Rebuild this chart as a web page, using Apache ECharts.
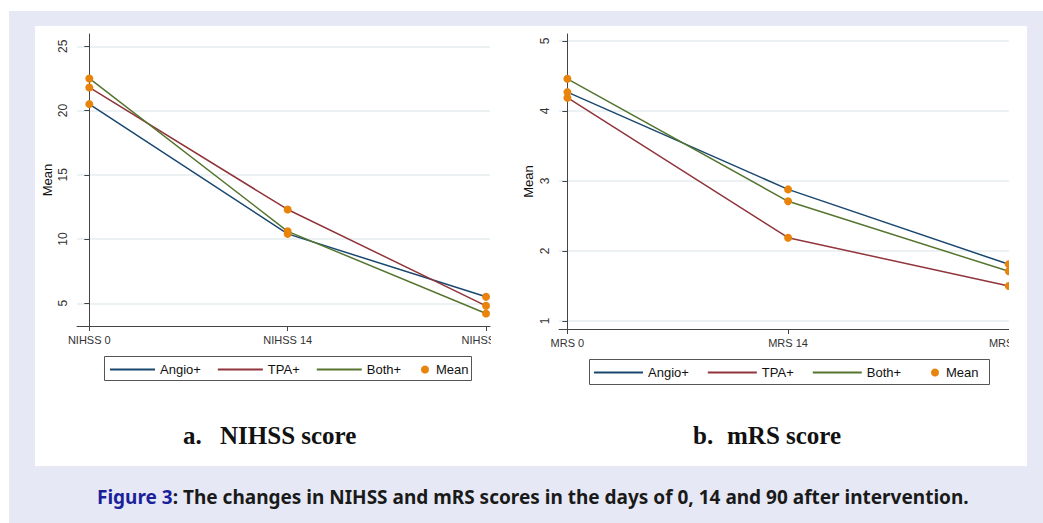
<!DOCTYPE html>
<html>
<head>
<meta charset="utf-8">
<script src="https://cdn.jsdelivr.net/npm/echarts@6/dist/echarts.min.js"></script>
<style>
html,body{margin:0;padding:0;background:#fff;}
#wrap{position:relative;width:1043px;height:523px;overflow:hidden;}
#bg{position:absolute;left:9px;top:11px;width:1034px;height:512px;background:#e6e9f5;}
#panel{position:absolute;left:35px;top:26px;width:992px;height:440px;background:#fff;}
#main{position:absolute;left:0;top:0;width:1043px;height:523px;}
</style>
</head>
<body>
<div id="wrap">
	<div id="bg"></div>
	<div id="panel"></div>
	<div id="main"></div>
</div>
<script>
// a. NIHSS score
var nihssCats = ['NIHSS 0', 'NIHSS 14', 'NIHSS 90'];
var nihssTicks = [5, 10, 15, 20, 25];
var nihssAngio = [20.5, 10.4, 5.5];
var nihssTpa = [21.8, 12.3, 4.8];
var nihssBoth = [22.5, 10.6, 4.2];

// b. mRS score
var mrsCats = ['MRS 0', 'MRS 14', 'MRS 90'];
var mrsTicks = [1, 2, 3, 4, 5];
var mrsAngio = [4.27, 2.88, 1.81];
var mrsTpa = [4.19, 2.19, 1.5];
var mrsBoth = [4.46, 2.71, 1.71];

var groupNames = ['Angio+', 'TPA+', 'Both+'];
var groupColors = ['#1a476f', '#90353b', '#55752f'];
var meanColor = '#e8830c';
var font = 'Liberation Sans, Arial, sans-serif';

function toPoints(arr){
	return arr.map(function(v, i){ return [i, v]; });
}

//生成一个面板的线和点
function panelSeries(idx, sets){
	var list = [];
	var means = [];
	sets.forEach(function(arr, k){
		list.push({
			name: groupNames[k],
			type: 'line',
			xAxisIndex: idx,
			yAxisIndex: idx,
			data: toPoints(arr),
			symbol: 'none',
			lineStyle: {width: 1.5, color: groupColors[k]},
			itemStyle: {color: groupColors[k]},
			z: 2
		});
		means = means.concat(toPoints(arr));
	});
	list.push({
		name: 'Mean',
		type: 'scatter',
		xAxisIndex: idx,
		yAxisIndex: idx,
		data: means,
		symbolSize: 8,
		itemStyle: {color: meanColor, opacity: 1},
		z: 5
	});
	return list;
}

function xAxisOf(idx, cats, min, max){
	return {
		gridIndex: idx,
		type: 'value',
		min: min,
		max: max,
		axisLine: {show: true, onZero: false, lineStyle: {color: '#444', width: 1}},
		axisTick: {show: true, customValues: [0, 1, 2], length: 5, lineStyle: {color: '#444'}},
		axisLabel: {
			customValues: [0, 1, 2],
			formatter: function(v){ return cats[Math.round(v)]; },
			fontSize: 11, color: '#333', fontFamily: font, margin: 8
		},
		splitLine: {show: false}
	};
}

function yAxisOf(idx, ticks, min, max, gap){
	return {
		gridIndex: idx,
		type: 'value',
		min: min,
		max: max,
		name: 'Mean',
		nameLocation: 'middle',
		nameGap: gap,
		nameRotate: 90,
		nameTextStyle: {fontSize: 13, color: '#111', fontFamily: font},
		axisLine: {show: true, lineStyle: {color: '#444', width: 1}},
		axisTick: {show: true, customValues: ticks, length: 5, lineStyle: {color: '#444'}},
		axisLabel: {customValues: ticks, rotate: 90, fontSize: 12, color: '#333', fontFamily: font, margin: 8},
		splitLine: {show: true, lineStyle: {color: '#e6eef0', width: 1.5}}
	};
}

var lineIcon = 'path://M0,0H45V2H0Z';
function legendOf(left, top, w, gap){
	return {
		left: left, top: top, padding: 0,
		itemWidth: w, itemHeight: 10, itemGap: gap,
		textStyle: {fontSize: 13, color: '#111', fontFamily: font},
		data: groupNames.map(function(n){ return {name: n, icon: lineIcon}; })
	};
}
function meanLegendOf(left, top){
	return {
		left: left, top: top, padding: 0,
		itemWidth: 8, itemHeight: 8,
		textStyle: {fontSize: 13, color: '#111', fontFamily: font, padding: [0, 0, 0, 2]},
		data: [{name: 'Mean', icon: 'circle'}]
	};
}

var myChart = echarts.init(document.getElementById('main'), null, {renderer: 'svg'});
var option = {
	backgroundColor: 'transparent',
	animation: false,
	grid: [
		{left: 77, top: 34, width: 413, height: 292},
		{left: 559, top: 34, width: 450, height: 295}
	],
	xAxis: [
		xAxisOf(0, nihssCats, -0.062, 2.02),
		xAxisOf(1, mrsCats, -0.038, 2.001)
	],
	yAxis: [
		yAxisOf(0, nihssTicks, 3.23, 25.96, 23),
		yAxisOf(1, mrsTicks, 0.886, 5.1, 24)
	],
	legend: [
		legendOf(110, 363, 45, 17),
		meanLegendOf(421, 363),
		legendOf(594, 366, 49, 19),
		meanLegendOf(931, 366)
	],
	title: [
		{
			text: '{n|a.}{t|NIHSS score}', left: 183, top: 423, padding: 0,
			textStyle: {rich: {
				n: {fontFamily: 'Liberation Serif', fontWeight: 'bold', fontSize: 25, color: '#111', width: 37},
				t: {fontFamily: 'Liberation Serif', fontWeight: 'bold', fontSize: 25, color: '#111'}
			}}
		},
		{
			text: '{n|b.}{t|mRS score}', left: 693, top: 423, padding: 0,
			textStyle: {rich: {
				n: {fontFamily: 'Liberation Serif', fontWeight: 'bold', fontSize: 25, color: '#111', width: 34},
				t: {fontFamily: 'Liberation Serif', fontWeight: 'bold', fontSize: 25, color: '#111'}
			}}
		},
		{
			text: '{f|Figure 3}{c|: The changes in NIHSS and mRS scores in the days of 0, 14 and 90 after intervention.}',
			left: 97, top: 487, padding: 0,
			textStyle: {rich: {
				f: {fontFamily: 'Noto Sans', fontWeight: 'bold', fontSize: 19, color: '#1b1f9c'},
				c: {fontFamily: 'Noto Sans', fontWeight: 'bold', fontSize: 19, color: '#1a1a1a'}
			}}
		}
	],
	graphic: [
		// 图例边框
		{type: 'rect', shape: {x: 104.5, y: 356.5, width: 367, height: 24}, style: {fill: 'none', stroke: '#555', lineWidth: 1}, z: 100},
		{type: 'rect', shape: {x: 589.5, y: 359.5, width: 400, height: 25}, style: {fill: 'none', stroke: '#555', lineWidth: 1}, z: 100},
		// 原图裁切的右边缘
		{type: 'rect', shape: {x: 491, y: 328, width: 40, height: 22}, style: {fill: '#fff'}, z: 100},
		{type: 'rect', shape: {x: 1009, y: 30, width: 18, height: 320}, style: {fill: '#fff'}, z: 100},
		{type: 'rect', shape: {x: 1027, y: 30, width: 16, height: 320}, style: {fill: '#e6e9f5'}, z: 100}
	],
	series: panelSeries(0, [nihssAngio, nihssTpa, nihssBoth]).concat(
		panelSeries(1, [mrsAngio, mrsTpa, mrsBoth]))
};
myChart.setOption(option);
</script>
</body>
</html>
